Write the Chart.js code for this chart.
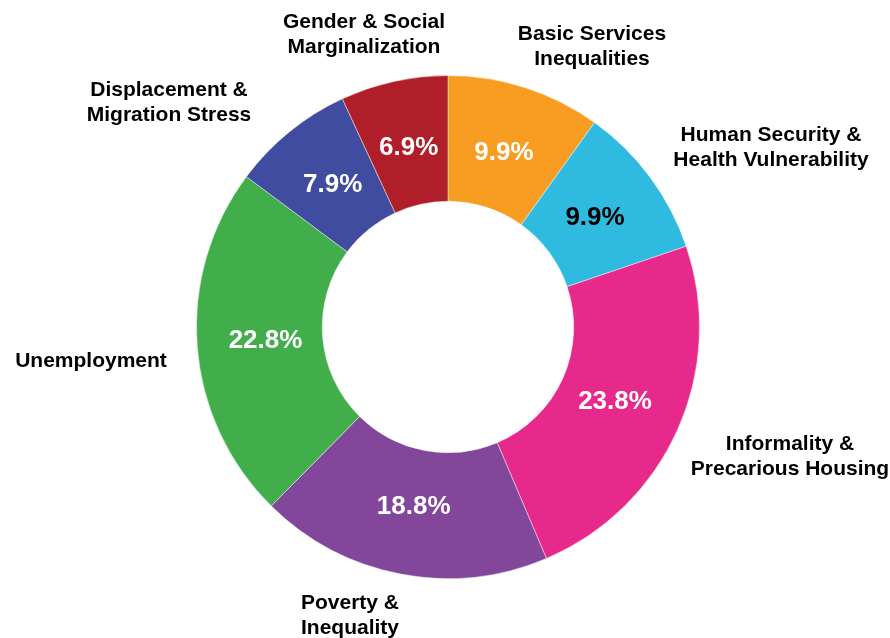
<!DOCTYPE html>
<html>
<head>
<meta charset="utf-8">
<script src="https://cdn.jsdelivr.net/npm/chart.js@4.4.1/dist/chart.umd.min.js"></script>
<style>
  html, body { margin: 0; padding: 0; background: #fff; }
  #wrap { width: 890px; height: 638px; }
</style>
</head>
<body>
<div id="wrap"><canvas id="donut"></canvas></div>
<script>
// Slices, clockwise from 12 o'clock
const categories = [
    ['Basic Services', 'Inequalities'],
    ['Human Security &', 'Health Vulnerability'],
    ['Informality &', 'Precarious Housing'],
    ['Poverty &', 'Inequality'],
    ['Unemployment'],
    ['Displacement &', 'Migration Stress'],
    ['Gender & Social', 'Marginalization']
];
const shares = [9.9, 9.9, 23.8, 18.8, 22.8, 7.9, 6.9];
const sliceColors = ['#F89D21', '#2FBBE0', '#E6298A', '#82469A', '#42AD4B', '#3F4CA0', '#B01F29'];
const valueColors = ['#fff', '#000', '#fff', '#fff', '#fff', '#fff', '#fff'];

// where each category name sits, relative to the ring centre
const namePlacement = [
    { dx: 144, dy: -280 },
    { dx: 323, dy: -179 },
    { dx: 342, dy: 130 },
    { dx: -98, dy: 289 },
    { dx: -357, dy: 34 },
    { dx: -279, dy: -224 },
    { dx: -84, dy: -292 }
];

const labelFont = 'bold 21px "Liberation Sans", Arial, sans-serif';
const valueFont = 'bold 26px "Liberation Sans", Arial, sans-serif';

const sliceLabels = {
    id: 'sliceLabels',
    afterDatasetsDraw(chart) {
        const ctx = chart.ctx;
        const arcs = chart.getDatasetMeta(0).data;
        ctx.save();
        ctx.textAlign = 'center';
        ctx.textBaseline = 'middle';
        arcs.forEach((arc, i) => {
            // percentage inside the ring
            const mid = (arc.startAngle + arc.endAngle) / 2;
            const r = 183;
            ctx.font = valueFont;
            ctx.fillStyle = valueColors[i];
            ctx.fillText(shares[i].toFixed(1) + '%', arc.x + Math.cos(mid) * r, arc.y + Math.sin(mid) * r);

            // category name outside
            const lines = categories[i];
            const p = namePlacement[i];
            const lh = 25;
            ctx.font = labelFont;
            ctx.fillStyle = '#000';
            lines.forEach((line, k) => {
                const y = arc.y + p.dy + (k - (lines.length - 1) / 2) * lh;
                ctx.fillText(line, arc.x + p.dx, y);
            });
        });
        ctx.restore();
    }
};

new Chart(document.getElementById('donut'), {
    type: 'doughnut',
    data: {
        labels: categories.map(c => c.join(' ')),
        datasets: [{
            data: shares,
            backgroundColor: sliceColors,
            borderColor: 'rgba(255,255,255,0.45)',
            borderWidth: 1
        }]
    },
    options: {
        responsive: true,
        maintainAspectRatio: false,
        animation: false,
        cutout: '50%',
        layout: { padding: { left: 196, right: 190, top: 75, bottom: 59 } },
        plugins: {
            legend: { display: false },
            tooltip: { enabled: false }
        }
    },
    plugins: [sliceLabels]
});
</script>
</body>
</html>
